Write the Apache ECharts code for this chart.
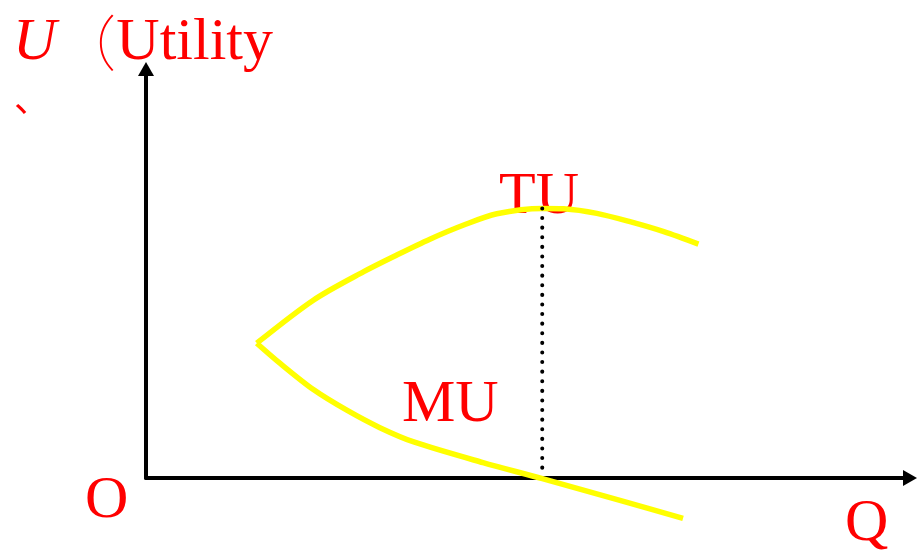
<!DOCTYPE html>
<html>
<head>
<meta charset="utf-8">
<script src="https://cdn.jsdelivr.net/npm/echarts@6/dist/echarts.min.js"></script>
<style>
html, body { margin: 0; padding: 0; background: #fff; }
#container { width: 917px; height: 556px; }
</style>
</head>
<body>
<div id="container"></div>
<script>
// 总效用 TU 曲线 (Q, U)
var tuQ = [1.44, 2.18, 2.83, 3.26, 3.69, 4.13, 4.56, 5.15, 5.43, 5.86, 6.29, 6.73, 7.18];
var tuU = [3.24, 4.28, 4.96, 5.36, 5.74, 6.08, 6.35, 6.48, 6.47, 6.36, 6.16, 5.92, 5.62];
// 边际效用 MU 曲线
var muQ = [1.44, 1.74, 2.18, 2.61, 3.04, 3.49, 4.38, 5.14, 6.16, 6.98];
var muU = [3.24, 2.76, 2.12, 1.63, 1.21, 0.86, 0.37, -0.01, -0.54, -0.97];
// TU 最高点 / MU = 0 处
var peakQ = 5.15;
var peakU = 6.48;

var labels = { yName: 'Utility', x: 'Q', o: 'O', tu: 'TU', mu: 'MU' };

function pairs(xs, ys) {
	var out = [];
	for (var i = 0; i < xs.length; i++) out.push([xs[i], ys[i]]);
	return out;
}

var myChart = echarts.init(document.getElementById('container'));
var serif = "'Liberation Serif', 'Times New Roman', serif";
var red = '#ff0000';

var axisLine = {
	show: true,
	onZero: false,
	symbol: ['none', 'triangle'],
	symbolSize: [16, 14],
	lineStyle: { color: '#000', width: 4 }
};

var option = {
	animation: false,
	backgroundColor: '#fff',
	grid: { left: 146, right: 7, top: 69, bottom: 78 },
	xAxis: {
		type: 'value', min: 0, max: 9.93,
		axisLine: axisLine,
		axisTick: { show: false }, axisLabel: { show: false }, splitLine: { show: false }
	},
	yAxis: {
		type: 'value', min: 0, max: 9.83,
		axisLine: axisLine,
		axisTick: { show: false }, axisLabel: { show: false }, splitLine: { show: false }
	},
	series: [
		{
			name: 'TU', type: 'line', data: pairs(tuQ, tuU),
			smooth: 0.3, showSymbol: false, clip: false,
			lineStyle: { color: '#ffff00', width: 5.5 }
		},
		{
			name: 'MU', type: 'line', data: pairs(muQ, muU),
			smooth: 0.3, showSymbol: false, clip: false,
			lineStyle: { color: '#ffff00', width: 5.5 }
		},
		{
			name: 'guide', type: 'line', data: [[peakQ, peakU], [peakQ, 0.2]],
			showSymbol: false, clip: false, z: 3,
			lineStyle: { color: '#000', width: 4, type: [0.1, 9.5], cap: 'round' }
		}
	],
	graphic: [
		{
			type: 'text', left: 13, top: 13,
			style: {
				text: '{i|U}{p|（}{n|' + labels.yName + '}',
				rich: {
					i: { font: 'italic 60px ' + serif, fill: red },
					p: { font: "100 60px 'Noto Sans CJK SC'", fill: red },
					n: { font: '60px ' + serif, fill: red }
				}
			}
		},
		{ type: 'text', x: 14, y: 98, style: { text: '、', font: "36px 'Noto Sans CJK SC'", fill: red, verticalAlign: 'middle' } },
		{ type: 'text', x: 85, y: 501, style: { text: labels.o, font: '60px ' + serif, fill: red, verticalAlign: 'middle' } },
		{ type: 'text', x: 845, y: 524, style: { text: labels.x, font: '60px ' + serif, fill: red, verticalAlign: 'middle' } },
		{ type: 'text', x: 499, y: 197, style: { text: labels.tu, font: '60px ' + serif, fill: red, verticalAlign: 'middle' } },
		{ type: 'text', x: 402, y: 405, style: { text: labels.mu, font: '60px ' + serif, fill: red, verticalAlign: 'middle' } }
	]
};

myChart.setOption(option);
</script>
</body>
</html>
